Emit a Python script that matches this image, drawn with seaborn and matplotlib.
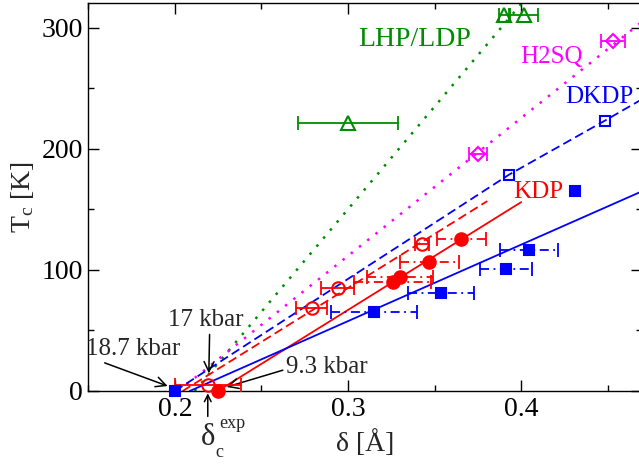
import matplotlib
matplotlib.use("Agg")
import matplotlib.pyplot as plt
import seaborn as sns
import pandas as pd
from matplotlib.ticker import MultipleLocator

# ---------------- data ----------------
lhp_delta = [0.300, 0.390, 0.4016]
lhp_tc = [221.0, 310.5, 310.5]
lhp_err = [0.029, 0.003, 0.008]

h2sq_delta = [0.3751, 0.4532]
h2sq_tc = [195.7, 289.0]
h2sq_err = [0.005, 0.007]

dkdp_th_delta = [0.3929, 0.4484]
dkdp_th_tc = [178.5, 223.2]

dkdp_exp_delta = [0.200, 0.315, 0.3536, 0.3912, 0.4046, 0.431]
dkdp_exp_tc = [0.0, 65.3, 80.5, 101.0, 116.1, 164.7]
dkdp_exp_err = [0.0, 0.025, 0.019, 0.015, 0.0167, 0.0]

kdp_exp_delta = [0.2248, 0.3257, 0.3299, 0.3468, 0.3655]
kdp_exp_tc = [0.0, 90.0, 94.1, 106.5, 125.8]
kdp_exp_err = [0.0, 0.022, 0.019, 0.017, 0.014]

kdp_th_delta = [0.219, 0.279, 0.294, 0.3425]
kdp_th_tc = [4.9, 68.4, 84.8, 121.0]
kdp_th_err = [0.019, 0.009, 0.0095, 0.004]

# fitted / guide lines
lhp_line_x = [0.2114, 0.4003]
lhp_line_y = [0.0, 320.0]
h2sq_line_x = [0.202, 0.470]
h2sq_line_y = [0.0, 305.0]
dkdp_dash_x = [0.200, 0.3929, 0.4484, 0.470]
dkdp_dash_y = [0.0, 178.5, 223.2, 241.0]
kdp_dash_x = [0.2045, 0.3804]
kdp_dash_y = [0.0, 156.7]
kdp_solid_x = [0.2248, 0.400]
kdp_solid_y = [0.0, 155.9]
dkdp_solid_x = [0.2086, 0.470]
dkdp_solid_y = [0.0, 165.0]

x_major = [0.2, 0.3, 0.4]
y_major = [0, 100, 200, 300]

# ---------------- style ----------------
sns.set_theme(style="ticks")
plt.rcParams['font.family'] = ['Liberation Serif', 'DejaVu Serif']
plt.rcParams['mathtext.fontset'] = 'custom'
plt.rcParams['mathtext.rm'] = 'Liberation Serif'
plt.rcParams['mathtext.it'] = 'Liberation Serif:italic'

GREEN = '#008c00'
MAG = '#ff00ff'
BLUE = '#0000ff'
RED = '#ff0000'

fig = plt.figure(figsize=(6.39, 4.71), dpi=100)
ax = fig.add_axes([88.3 / 639, 80 / 471, (642.4 - 88.3) / 639, (391 - 3.3) / 471])

def line(xs, ys, color, ls, lw=1.3):
    df = pd.DataFrame({'x': xs, 'y': ys})
    sns.lineplot(data=df, x='x', y='y', ax=ax, color=color, linestyle=ls,
                 linewidth=lw, sort=False, estimator=None, legend=False)

line(lhp_line_x, lhp_line_y, GREEN, (0, (1, 3.2)), 1.8)
line(h2sq_line_x, h2sq_line_y, MAG, (0, (1, 3.2)), 1.8)
line(dkdp_dash_x, dkdp_dash_y, BLUE, (0, (5, 2.5)))
line(kdp_dash_x, kdp_dash_y, RED, (0, (5, 2.5)))
line(kdp_solid_x, kdp_solid_y, RED, '-')
line(dkdp_solid_x, dkdp_solid_y, BLUE, '-')

def pts(xs, ys, xerr, color, marker, ms, filled, dashdot=False):
    if xerr is not None:
        sel = [i for i, e in enumerate(xerr) if e > 0]
        if sel:
            eb = ax.errorbar([xs[i] for i in sel], [ys[i] for i in sel],
                             xerr=[xerr[i] for i in sel], fmt='none', ecolor=color,
                             elinewidth=1.3, capsize=5, capthick=1.3,
                             clip_on=False, zorder=4)
            if dashdot:
                for c in eb[2]:
                    c.set_linestyle((0, (5, 2.5, 1, 2.5)))
    ax.plot(xs, ys, linestyle='none', marker=marker, ms=ms, color=color,
            mfc=color if filled else 'none', mec=color, mew=1.5,
            clip_on=False, zorder=5)

pts(lhp_delta, lhp_tc, lhp_err, GREEN, '^', 10, False)
pts(h2sq_delta, h2sq_tc, h2sq_err, MAG, 'D', 7.5, False)
pts(dkdp_th_delta, dkdp_th_tc, None, BLUE, 's', 7.5, False)
pts(dkdp_exp_delta, dkdp_exp_tc, dkdp_exp_err, BLUE, 's', 7.5, True, dashdot=True)
pts(kdp_exp_delta, kdp_exp_tc, kdp_exp_err, RED, 'o', 9, True, dashdot=True)
pts(kdp_th_delta, kdp_th_tc, kdp_th_err, RED, 'o', 9, False)

# ---------------- axes ----------------
ax.set_xlim(0.15, 0.47)
ax.set_ylim(0, 320)
ax.set_xticks(x_major)
ax.set_xticklabels([f"{v:.1f}" for v in x_major])
ax.set_yticks(y_major)
ax.set_yticklabels([str(v) for v in y_major])
ax.xaxis.set_minor_locator(MultipleLocator(0.05))
ax.yaxis.set_minor_locator(MultipleLocator(50))
ax.tick_params(which='both', direction='in', top=True, right=True,
               colors='black', labelsize=20, width=1.0)
ax.tick_params(which='major', length=8, pad=4)
ax.tick_params(which='minor', length=4.5)
for s in ['left', 'bottom', 'top']:
    ax.spines[s].set_color('black')
    ax.spines[s].set_linewidth(1.0)
ax.spines['right'].set_visible(False)
ax.grid(False)

ax.set_xlabel('δ [Å]', fontsize=20, labelpad=6)
ax.set_ylabel(r'T$_{\rm c}$ [K]', fontsize=20, labelpad=4)

# ---------------- text labels ----------------
ax.text(0.3386, 290, 'LHP/LDP', color=GREEN, fontsize=20, ha='center', va='center')
ax.text(0.4172, 276, 'H2SQ', color=MAG, fontsize=18, ha='center', va='center')
ax.text(0.4452, 243, 'DKDP', color=BLUE, fontsize=18, ha='center', va='center')
ax.text(0.410, 164, 'KDP', color=RED, fontsize=18, ha='center', va='center')

arrow = dict(arrowstyle='->', color='black', lw=1.1, shrinkA=0, shrinkB=0)
ax.annotate('18.7 kbar', xy=(0.1958, 4.1), xytext=(0.1761, 35), fontsize=18,
            ha='center', va='center', arrowprops=dict(arrow, relpos=(0.1, 0.0)),
            annotation_clip=False)
ax.annotate('17 kbar', xy=(0.2196, 14.6), xytext=(0.2179, 58.5), fontsize=18,
            ha='center', va='center', arrowprops=dict(arrow, relpos=(0.55, 0.0)),
            annotation_clip=False)
ax.annotate('9.3 kbar', xy=(0.2299, 3.3), xytext=(0.2878, 19.8), fontsize=18,
            ha='center', va='center', arrowprops=dict(arrow, relpos=(0.0, 0.4)),
            annotation_clip=False)
ax.annotate('', xy=(0.219, -1.9), xytext=(0.219, -21), arrowprops=arrow,
            annotation_clip=False)
ax.text(0.219, -38.5, 'δ', fontsize=22, ha='center', va='center', clip_on=False)
ax.text(0.2255, -27, 'exp', fontsize=13, ha='left', va='center', clip_on=False)
ax.text(0.2235, -51, 'c', fontsize=13, ha='left', va='center', clip_on=False)

fig.savefig('out.png', dpi=100)
